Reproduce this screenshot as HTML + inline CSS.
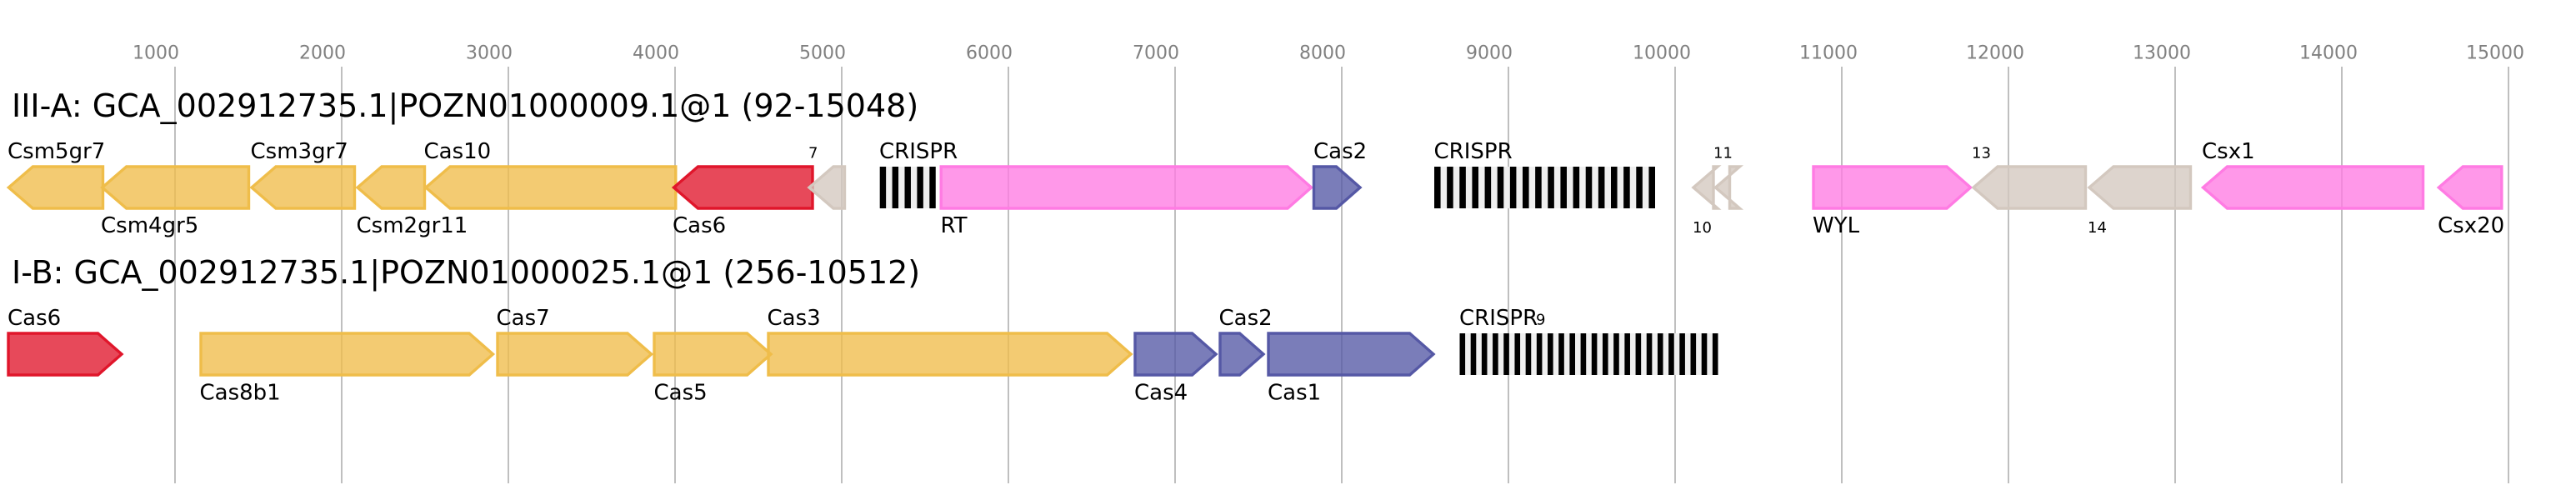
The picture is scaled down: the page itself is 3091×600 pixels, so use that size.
<!DOCTYPE html>
<html>
<head>
<meta charset="utf-8">
<style>
html,body{margin:0;padding:0;background:#fff;}
svg{display:block;}
text{font-family:"DejaVu Sans","Liberation Sans",sans-serif;}
.t{font-size:38px;fill:#000;}
.l{font-size:26px;fill:#000;}
.s{font-size:18px;fill:#000;}
.k{font-size:22px;fill:#808080;}
.y{fill:#efbd4a;stroke:#efbd4a;}
.r{fill:#e0162b;stroke:#e0162b;}
.b{fill:#5558a5;stroke:#5558a5;}
.p{fill:#ff7be3;stroke:#ff7be3;}
.g{fill:#d3c8bf;stroke:#d3c8bf;}
polygon{fill-opacity:0.78;stroke-width:3.4;stroke-linejoin:miter;}
</style>
</head>
<body>
<svg width="3091" height="600" viewBox="0 0 3091 600" xmlns="http://www.w3.org/2000/svg">
<rect x="0" y="0" width="3091" height="600" fill="#fff"/>
<!-- grid lines -->
<g stroke="#bfbfbf" stroke-width="2">
<line x1="210" y1="80" x2="210" y2="580"/>
<line x1="410" y1="80" x2="410" y2="580"/>
<line x1="610" y1="80" x2="610" y2="580"/>
<line x1="810" y1="80" x2="810" y2="580"/>
<line x1="1010" y1="80" x2="1010" y2="580"/>
<line x1="1210" y1="80" x2="1210" y2="580"/>
<line x1="1410" y1="80" x2="1410" y2="580"/>
<line x1="1610" y1="80" x2="1610" y2="580"/>
<line x1="1810" y1="80" x2="1810" y2="580"/>
<line x1="2010" y1="80" x2="2010" y2="580"/>
<line x1="2210" y1="80" x2="2210" y2="580"/>
<line x1="2410" y1="80" x2="2410" y2="580"/>
<line x1="2610" y1="80" x2="2610" y2="580"/>
<line x1="2810" y1="80" x2="2810" y2="580"/>
<line x1="3010" y1="80" x2="3010" y2="580"/>
</g>
<!-- tick labels -->
<g class="k">
<text class="k" x="159" y="70.5">1000</text>
<text class="k" x="359" y="70.5">2000</text>
<text class="k" x="559" y="70.5">3000</text>
<text class="k" x="759" y="70.5">4000</text>
<text class="k" x="959" y="70.5">5000</text>
<text class="k" x="1159" y="70.5">6000</text>
<text class="k" x="1359" y="70.5">7000</text>
<text class="k" x="1559" y="70.5">8000</text>
<text class="k" x="1759" y="70.5">9000</text>
<text class="k" x="1959" y="70.5">10000</text>
<text class="k" x="2159" y="70.5">11000</text>
<text class="k" x="2359" y="70.5">12000</text>
<text class="k" x="2559" y="70.5">13000</text>
<text class="k" x="2759" y="70.5">14000</text>
<text class="k" x="2959" y="70.5">15000</text>
</g>

<!-- titles -->
<text class="t" x="14" y="140">III-A: GCA_002912735.1|POZN01000009.1@1 (92-15048)</text>
<text class="t" x="14" y="340">I-B: GCA_002912735.1|POZN01000025.1@1 (256-10512)</text>

<!-- ROW 1 genes -->
<polygon class="y" points="10.4,225 39.4,200 123.5,200 123.5,250 39.4,250"/>
<polygon class="y" points="122.7,225 151.7,200 298.5,200 298.5,250 151.7,250"/>
<polygon class="y" points="302,225 331,200 425.5,200 425.5,250 331,250"/>
<polygon class="y" points="429,225 458,200 509.5,200 509.5,250 458,250"/>
<polygon class="y" points="511,225 540,200 810.8,200 810.8,250 540,250"/>
<polygon class="r" points="808.5,225 837.5,200 975,200 975,250 837.5,250"/>
<polygon class="g" points="971,225 1000,200 1013.5,200 1013.5,250 1000,250"/>
<polygon class="p" points="1129.2,200 1545,200 1573.5,225 1545,250 1129.2,250"/>
<polygon class="b" points="1576.5,200 1603.5,200 1632,225 1603.5,250 1576.5,250"/>
<polygon class="g" points="2032,225 2061,200 2056,200 2056,250 2061,250"/>
<polygon class="g" points="2058.5,225 2087.5,200 2075.5,200 2075.5,250 2087.5,250"/>
<polygon class="p" points="2176,200 2336,200 2364.5,225 2336,250 2176,250"/>
<polygon class="g" points="2368,225 2397,200 2502.5,200 2502.5,250 2397,250"/>
<polygon class="g" points="2507,225 2536,200 2628.5,200 2628.5,250 2536,250"/>
<polygon class="p" points="2643.5,225 2672.5,200 2907.5,200 2907.5,250 2672.5,250"/>
<polygon class="p" points="2926.3,225 2955.3,200 3001.8,200 3001.8,250 2955.3,250"/>

<!-- ROW 1 CRISPR arrays -->
<rect x="1055.7" y="200" width="67" height="50" fill="#efefef"/>
<g fill="#000">
<rect x="1055.7" y="200" width="7.44" height="50"/>
<rect x="1070.6" y="200" width="7.44" height="50"/>
<rect x="1085.5" y="200" width="7.44" height="50"/>
<rect x="1100.4" y="200" width="7.44" height="50"/>
<rect x="1115.3" y="200" width="7.44" height="50"/>
</g>
<rect x="1721" y="200" width="265" height="50" fill="#efefef"/>
<g fill="#000">
<rect x="1721.0" y="200" width="7.57" height="50"/>
<rect x="1736.14" y="200" width="7.57" height="50"/>
<rect x="1751.29" y="200" width="7.57" height="50"/>
<rect x="1766.43" y="200" width="7.57" height="50"/>
<rect x="1781.57" y="200" width="7.57" height="50"/>
<rect x="1796.71" y="200" width="7.57" height="50"/>
<rect x="1811.86" y="200" width="7.57" height="50"/>
<rect x="1827.0" y="200" width="7.57" height="50"/>
<rect x="1842.14" y="200" width="7.57" height="50"/>
<rect x="1857.29" y="200" width="7.57" height="50"/>
<rect x="1872.43" y="200" width="7.57" height="50"/>
<rect x="1887.57" y="200" width="7.57" height="50"/>
<rect x="1902.71" y="200" width="7.57" height="50"/>
<rect x="1917.86" y="200" width="7.57" height="50"/>
<rect x="1933.0" y="200" width="7.57" height="50"/>
<rect x="1948.14" y="200" width="7.57" height="50"/>
<rect x="1963.29" y="200" width="7.57" height="50"/>
<rect x="1978.43" y="200" width="7.57" height="50"/>
</g>

<!-- ROW 1 labels -->
<text class="l" x="9" y="190">Csm5gr7</text>
<text class="l" x="300.5" y="190">Csm3gr7</text>
<text class="l" x="508.5" y="190">Cas10</text>
<text class="s" x="970" y="189.5">7</text>
<text class="l" x="1055" y="190">CRISPR</text>
<text class="l" x="1576" y="190">Cas2</text>
<text class="l" x="1720.5" y="190">CRISPR</text>
<text class="s" x="2056" y="189.5">11</text>
<text class="s" x="2366" y="189.5">13</text>
<text class="l" x="2642" y="190">Csx1</text>

<text class="l" x="121" y="279">Csm4gr5</text>
<text class="l" x="427.5" y="279">Csm2gr11</text>
<text class="l" x="807" y="279">Cas6</text>
<text class="l" x="1128.5" y="279">RT</text>
<text class="s" x="2031" y="279">10</text>
<text class="l" x="2175" y="279">WYL</text>
<text class="s" x="2505" y="279">14</text>
<text class="l" x="2925" y="279">Csx20</text>

<!-- ROW 2 genes -->
<polygon class="r" points="10,400 117.5,400 146,425 117.5,450 10,450"/>
<polygon class="y" points="241,400 563,400 591.5,425 563,450 241,450"/>
<polygon class="y" points="597,400 753,400 781.6,425 753,450 597,450"/>
<polygon class="y" points="785,400 896.5,400 925,425 896.5,450 785,450"/>
<polygon class="y" points="922,400 1328.5,400 1357,425 1328.5,450 922,450"/>
<polygon class="b" points="1362,400 1430.5,400 1459,425 1430.5,450 1362,450"/>
<polygon class="b" points="1464,400 1487.5,400 1516,425 1487.5,450 1464,450"/>
<polygon class="b" points="1522,400 1691.5,400 1720,425 1691.5,450 1522,450"/>

<!-- ROW 2 CRISPR array -->
<rect x="1751.5" y="400" width="310" height="50" fill="#efefef"/>
<g fill="#000">
<rect x="1751.5" y="400" width="6.6" height="50"/>
<rect x="1764.69" y="400" width="6.6" height="50"/>
<rect x="1777.88" y="400" width="6.6" height="50"/>
<rect x="1791.07" y="400" width="6.6" height="50"/>
<rect x="1804.26" y="400" width="6.6" height="50"/>
<rect x="1817.46" y="400" width="6.6" height="50"/>
<rect x="1830.65" y="400" width="6.6" height="50"/>
<rect x="1843.84" y="400" width="6.6" height="50"/>
<rect x="1857.03" y="400" width="6.6" height="50"/>
<rect x="1870.22" y="400" width="6.6" height="50"/>
<rect x="1883.41" y="400" width="6.6" height="50"/>
<rect x="1896.60" y="400" width="6.6" height="50"/>
<rect x="1909.79" y="400" width="6.6" height="50"/>
<rect x="1922.98" y="400" width="6.6" height="50"/>
<rect x="1936.17" y="400" width="6.6" height="50"/>
<rect x="1949.37" y="400" width="6.6" height="50"/>
<rect x="1962.56" y="400" width="6.6" height="50"/>
<rect x="1975.75" y="400" width="6.6" height="50"/>
<rect x="1988.94" y="400" width="6.6" height="50"/>
<rect x="2002.13" y="400" width="6.6" height="50"/>
<rect x="2015.32" y="400" width="6.6" height="50"/>
<rect x="2028.51" y="400" width="6.6" height="50"/>
<rect x="2041.70" y="400" width="6.6" height="50"/>
<rect x="2054.89" y="400" width="6.6" height="50"/>
</g>

<!-- ROW 2 labels -->
<text class="l" x="9" y="390">Cas6</text>
<text class="l" x="595.5" y="390">Cas7</text>
<text class="l" x="920.5" y="390">Cas3</text>
<text class="l" x="1462.5" y="390">Cas2</text>
<text class="l" x="1751" y="390">CRISPR</text>
<text class="s" x="1843" y="389.5">9</text>

<text class="l" x="239.5" y="479.5">Cas8b1</text>
<text class="l" x="784.5" y="479.5">Cas5</text>
<text class="l" x="1361" y="479.5">Cas4</text>
<text class="l" x="1521" y="479.5">Cas1</text>
</svg>
</body>
</html>
